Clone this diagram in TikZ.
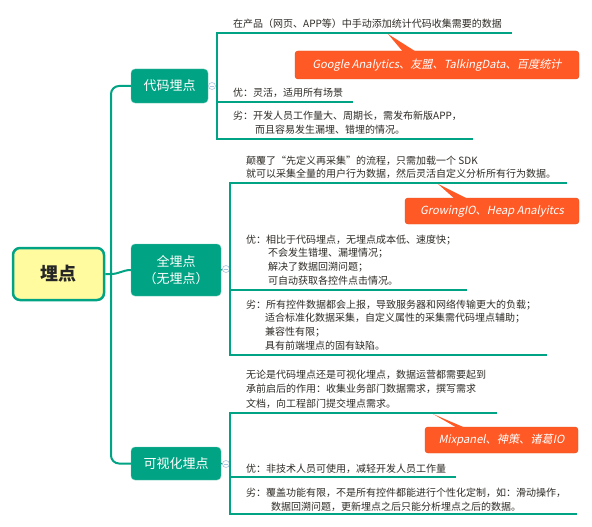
\documentclass[tikz,border=0pt]{standalone}
\usepackage{fontspec}
\setmainfont{Noto Sans CJK SC}
\newfontfamily\calloutfont[FakeSlant=0.2]{Noto Sans CJK SC}
\usepackage{tikz}
\usetikzlibrary{calc}
\usepackage{xcolor}
\definecolor{mapteal}{HTML}{00A383}
\definecolor{rootyellow}{HTML}{FFFB9E}
\definecolor{calloutorange}{HTML}{FF5A26}
\definecolor{textgray}{HTML}{2E2B26}
\definecolor{foldblue}{HTML}{A9C6DE}

\begin{document}
\begin{tikzpicture}[x=1pt, y=-1pt,
    conn/.style={draw=mapteal, line width=1.4pt},
    trunk/.style={draw=mapteal, line width=2pt},
    rootbox/.style={rectangle, rounded corners=7pt, draw=mapteal, line width=2.5pt, fill=rootyellow,
        minimum width=91pt, minimum height=52pt, inner sep=0pt, text=black!85,
        font=\bfseries\fontsize{18}{20}\selectfont},
    branch/.style={rectangle, rounded corners=4pt, fill=mapteal, draw=mapteal!60!white, text=white,
        align=center, inner sep=0pt, font=\fontsize{13}{17}\selectfont},
    leaf/.style={anchor=base west, inner sep=0pt, text=textgray, font=\fontsize{10}{12}\selectfont},
    callout/.style={rectangle, rounded corners=3pt, fill=calloutorange, draw=calloutorange!85!black,
        text=white, inner sep=0pt, font=\calloutfont\fontsize{11.2}{13}\selectfont},
    fold/.style={circle, draw=foldblue, fill=white, line width=0.6pt, minimum size=7pt, inner sep=0pt,
        path picture={\draw[foldblue, line width=0.6pt]
            ([xshift=-2pt]path picture bounding box.center) -- ([xshift=2pt]path picture bounding box.center);}}]
    \useasboundingbox (0,0) rectangle (592,527);

    % Root and main topics
    \node[rootbox] (root) at (58.5,274) {埋点};
    \node[branch, minimum width=77pt, minimum height=34pt] (code) at (169.5,86) {代码埋点};
    \node[branch, minimum width=90pt, minimum height=52pt] (full) at (176,270) {全埋点\\（无埋点）};
    \node[branch, minimum width=90pt, minimum height=33pt] (visual) at (176,463.5) {可视化埋点};

    \draw[trunk, rounded corners=8pt] (code.west) -- (111,86) -- (111,463.5) -- (visual.west);
    \draw[trunk] (root.east) -- (111,274) to[out=0, in=180] (full.west);

    % Fold markers
    \node[fold] (fcode) at (212,86) {};
    \node[fold] (ffull) at (226,269) {};
    \node[fold] (fvisual) at (226,464) {};

    % Code tracking
    \coordinate (k1a) at (217,33);
    \coordinate (k1b) at (217,102);
    \coordinate (k1c) at (217,139);
    \draw[conn] (code.east) -- (fcode);
    \draw[conn] (fcode) -- (fcode -| k1a);
    \draw[conn] (512,33) -- (k1a) -- (k1c) -- (473,139);
    \draw[conn] (k1b) -- (353,102);
    \node[leaf] (k1desc) at (233,28) {在产品（网页、APP等）中手动添加统计代码收集需要的数据};
    \node[leaf] (k1pro) at (233,96) {优：灵活，适用所有场景};
    \node[leaf] (k1con) at (233,120) {劣：开发人员工作量大、周期长，需发布新版APP，};
    \node[leaf] (k1con2) at (255,133.5) {而且容易发生漏埋、错埋的情况。};
    \node[callout, minimum width=284pt, minimum height=28pt] (k1tools) at (437,65)
        {Google Analytics、友盟、TalkingData、百度统计};
    \fill[calloutorange] (388,34) -- (404,53) -- (418,53) -- cycle;

    % Full tracking
    \coordinate (k2a) at (230,183);
    \coordinate (k2b) at (230,290);
    \coordinate (k2c) at (230,355);
    \draw[conn] (full.east) -- (ffull);
    \draw[conn] (ffull) -- (ffull -| k2a);
    \draw[conn] (567,183) -- (k2a) -- (k2c) -- (547,355);
    \draw[conn] (k2b) -- (467,290);
    \node[leaf] (k2desc) at (246,164) {颠覆了“先定义再采集”的流程，只需加载一个 SDK};
    \node[leaf] (k2desc2) at (246,177.5) {就可以采集全量的用户行为数据，然后灵活自定义分析所有行为数据。};
    \node[leaf] (k2pro) at (246,243) {优：相比于代码埋点，无埋点成本低、速度快；};
    \node[leaf] (k2pro2) at (268,256.5) {不会发生错埋、漏埋情况；};
    \node[leaf] (k2pro3) at (268,270) {解决了数据回溯问题；};
    \node[leaf] (k2pro4) at (268,284) {可自动获取各控件点击情况。};
    \node[leaf] (k2con) at (246,308) {劣：所有控件数据都会上报，导致服务器和网络传输更大的负载；};
    \node[leaf] (k2con2) at (265,321.5) {适合标准化数据采集，自定义属性的采集需代码埋点辅助；};
    \node[leaf] (k2con3) at (265,335) {兼容性有限；};
    \node[leaf] (k2con4) at (265,349) {具有前端埋点的固有缺陷。};
    \node[callout, minimum width=174pt, minimum height=26pt] (k2tools) at (492,211)
        {GrowingIO、Heap Analyitcs};
    \fill[calloutorange] (438,184) -- (456,200) -- (470,200) -- cycle;

    % Visual tracking
    \coordinate (k3a) at (230,413);
    \coordinate (k3b) at (230,477);
    \coordinate (k3c) at (230,514);
    \draw[conn] (visual.east) -- (fvisual);
    \draw[conn] (fvisual) -- (fvisual -| k3a);
    \draw[conn] (497,413) -- (k3a) -- (k3c) -- (577,514);
    \draw[conn] (k3b) -- (456,477);
    \node[leaf] (k3desc) at (246,378) {无论是代码埋点还是可视化埋点，数据运营都需要起到};
    \node[leaf] (k3desc2) at (246,392.5) {承前启后的作用：收集业务部门数据需求，撰写需求};
    \node[leaf] (k3desc3) at (246,407) {文档，向工程部门提交埋点需求。};
    \node[leaf] (k3pro) at (246,472) {优：非技术人员可使用，减轻开发人员工作量};
    \node[leaf] (k3con) at (246,496) {劣：覆盖功能有限，不是所有控件都能进行个性化定制，如：滑动操作，};
    \node[leaf] (k3con2) at (271,510) {数据回溯问题，更新埋点之后只能分析埋点之后的数据。};
    \node[callout, minimum width=153pt, minimum height=26pt] (k3tools) at (501.5,440)
        {Mixpanel、神策、诸葛IO};
    \fill[calloutorange] (433,414) -- (459,429) -- (468,429) -- cycle;
\end{tikzpicture}
\end{document}
